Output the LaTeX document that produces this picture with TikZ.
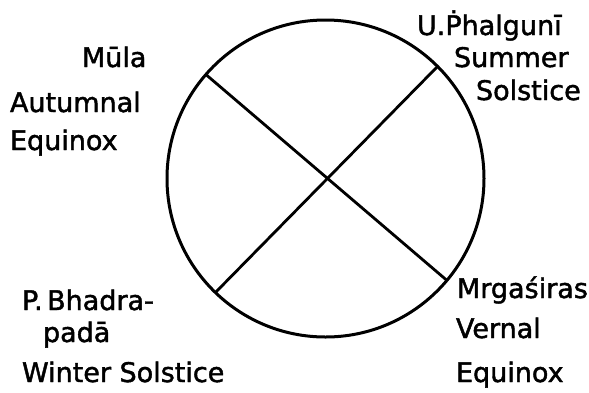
\documentclass[tikz,border=0pt]{standalone}
\usepackage{fontspec}
\setmainfont{DejaVu Sans}
\newfontfamily\lblfont[FakeBold=1.6]{DejaVu Sans}
\begin{document}
\begin{tikzpicture}[x=1pt,y=-1pt,
  lbl/.style={anchor=base west,inner sep=0pt,outer sep=0pt,font=\lblfont\fontsize{27}{30}\selectfont},
  rim/.style={draw,circle,line width=3pt,inner sep=0pt,outer sep=0pt,minimum size=317pt},
  chord/.style={line width=2.8pt}]
\useasboundingbox (0,0) rectangle (589,392);
\node[rim] (c) at (325.5,178.5) {};
\draw[chord] (c.139.6) -- (c.-40.4);
\draw[chord] (c.45) -- (c.226.3);
\node[lbl] (ph) at (417,35) {U.Ṗhalgunī};
\node[lbl] (su) at (454,67) {Summer};
\node[lbl] (so) at (476,100) {Solstice};
\node[lbl] (mu) at (82,67) {Mūla};
\node[lbl] (au) at (10,112) {Autumnal};
\node[lbl] (eqa) at (10,150) {Equinox};
\node[lbl] (bh) at (22,310) {P.\,Bhadra-};
\node[lbl] (pa) at (43,342) {padā};
\node[lbl] (wi) at (22,382) {Winter Solstice};
\node[lbl] (mr) at (457,298) {Mrgaśiras};
\node[lbl] (ve) at (456,338) {Vernal};
\node[lbl] (eqv) at (456,382) {Equinox};
\end{tikzpicture}
\end{document}
